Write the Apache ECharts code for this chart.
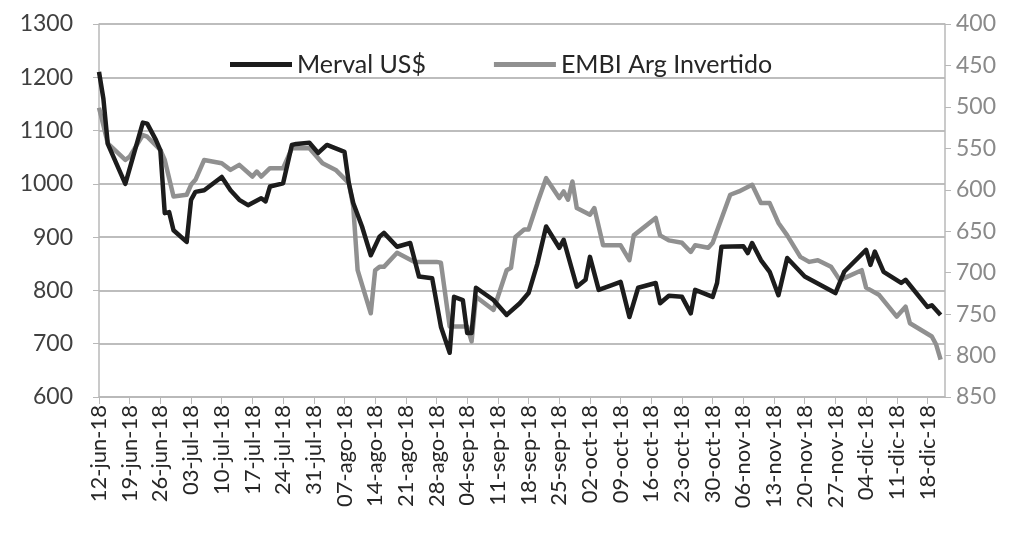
<!DOCTYPE html>
<html>
<head>
<meta charset="utf-8">
<script src="https://cdn.jsdelivr.net/npm/echarts@6/dist/echarts.min.js"></script>
<style>
    html, body { margin: 0; padding: 0; background: #fff; }
    #chartDiv { width: 1021px; height: 538px; }
</style>
</head>
<body>
<div id="chartDiv"></div>
<script>
// eje x: dias corridos desde 12-jun-18 (indice 0) hasta 22-dic-18
var startDate = new Date(2018, 5, 12);
var dayCount = 194;
var monthNames = ['ene', 'feb', 'mar', 'abr', 'may', 'jun', 'jul', 'ago', 'sep', 'oct', 'nov', 'dic'];

var seriesNames = ['Merval US$', 'EMBI Arg Invertido'];

// [dia, valor] - Merval en US$ (eje izquierdo)
var merval = [
    [0, 1210], [1, 1160], [2, 1075], [6, 1000], [10, 1115], [11, 1113], [13, 1082], [14, 1063],
    [15, 945], [16, 947], [17, 913], [20, 891], [21, 970], [22, 985], [24, 988], [28, 1013],
    [30, 988], [32, 970], [34, 960], [37, 973], [38, 967], [39, 995], [42, 1001], [44, 1073],
    [45, 1075], [48, 1077], [50, 1058], [52, 1073], [56, 1060], [57, 1001], [58, 964], [60, 920],
    [62, 866], [64, 901], [65, 908], [68, 882], [71, 889], [73, 826], [76, 823], [78, 732],
    [80, 683], [81, 788], [83, 782], [84, 720], [85, 720], [86, 805], [90, 782], [93, 754],
    [96, 776], [98, 795], [100, 850], [102, 920], [105, 880], [106, 895], [109, 807], [111, 820],
    [112, 863], [114, 801], [117, 810], [119, 816], [121, 750], [123, 805], [127, 814], [128, 776],
    [130, 790], [133, 788], [135, 757], [136, 801], [140, 788], [141, 814], [142, 882], [147, 883],
    [148, 870], [149, 889], [151, 857], [153, 835], [155, 791], [157, 861], [161, 826], [168, 795],
    [170, 835], [175, 876], [176, 848], [177, 873], [179, 835], [183, 814], [184, 820], [189, 769],
    [190, 772], [192, 754]
];

// [dia, valor] - EMBI Argentina (eje derecho, invertido)
var embi = [
    [0, 501], [1, 522], [2, 544], [6, 564], [7, 560], [10, 534], [11, 536], [14, 552],
    [15, 564], [17, 608], [20, 606], [21, 594], [22, 588], [24, 564], [28, 568], [30, 576],
    [32, 570], [35, 584], [36, 578], [37, 584], [39, 574], [42, 574], [44, 550], [48, 550],
    [51, 568], [54, 576], [57, 592], [58, 620], [59, 697], [62, 749], [63, 697], [64, 693],
    [65, 693], [68, 676], [72, 687], [77, 687], [78, 688], [80, 765], [84, 765], [85, 783],
    [86, 729], [90, 745], [93, 697], [94, 694], [95, 657], [97, 648], [98, 648], [100, 616],
    [102, 586], [105, 610], [106, 602], [107, 612], [108, 590], [109, 622], [112, 630], [113, 622],
    [115, 667], [119, 667], [121, 685], [122, 655], [127, 634], [128, 655], [130, 661], [133, 664],
    [135, 675], [136, 667], [139, 670], [140, 664], [144, 606], [146, 602], [149, 594], [151, 616],
    [153, 616], [155, 640], [157, 655], [160, 681], [162, 687], [164, 685], [167, 693], [169, 709],
    [174, 697], [175, 718], [178, 727], [182, 753], [184, 741], [185, 761], [190, 777], [191, 787],
    [192, 805]
];

function buildDays() {
    var days = [];
    for (var i = 0; i < dayCount; i++) {
        var d = new Date(startDate.getTime());
        d.setDate(d.getDate() + i);
        var dd = d.getDate() < 10 ? '0' + d.getDate() : '' + d.getDate();
        days.push(dd + '-' + monthNames[d.getMonth()] + '-' + String(d.getFullYear()).slice(2));
    }
    return days;
}

function plainNumber(v) {
    return String(v);
}

var fontName = 'Lato';
var myChart = echarts.init(document.getElementById('chartDiv'));
myChart.setOption({
    animation: false,
    textStyle: { fontFamily: fontName },
    legend: {
        top: 47,
        left: 225,
        icon: 'rect',
        itemWidth: 62,
        itemHeight: 5,
        itemGap: 68,
        textStyle: { fontSize: 25, color: '#262626', fontFamily: fontName },
        data: seriesNames
    },
    grid: {
        left: 99,
        right: 76,
        top: 24,
        bottom: 141,
        containLabel: false,
        outerBoundsMode: 'none'
    },
    xAxis: {
        type: 'category',
        boundaryGap: false,
        data: buildDays(),
        axisLine: { lineStyle: { color: '#b8b8b8', width: 1.5 } },
        axisTick: { interval: 6, length: 7, lineStyle: { color: '#b8b8b8' } },
        axisLabel: {
            interval: 6,
            rotate: 90,
            margin: 8,
            fontSize: 22,
            color: '#262626',
            fontFamily: fontName
        },
        splitLine: { show: false }
    },
    yAxis: [
        {
            type: 'value',
            min: 600,
            max: 1300,
            interval: 100,
            position: 'left',
            axisLine: { show: true, lineStyle: { color: '#b8b8b8', width: 1.5 } },
            axisTick: { show: true, length: 6, lineStyle: { color: '#b8b8b8' } },
            axisLabel: { margin: 26, fontSize: 23, color: '#404040', fontFamily: fontName, formatter: plainNumber },
            splitLine: { lineStyle: { color: '#bdbdbd', width: 2 } }
        },
        {
            type: 'value',
            min: 400,
            max: 850,
            interval: 50,
            inverse: true,
            position: 'right',
            axisLine: { show: true, lineStyle: { color: '#b8b8b8', width: 1.5 } },
            axisTick: { show: true, length: 6, lineStyle: { color: '#b8b8b8' } },
            axisLabel: { margin: 11, fontSize: 23, color: '#8a8a8a', fontFamily: fontName, formatter: plainNumber },
            splitLine: { show: false }
        }
    ],
    series: [
        {
            name: seriesNames[0],
            type: 'line',
            yAxisIndex: 0,
            symbol: 'none',
            color: '#1c1c1c',
            lineStyle: { width: 4.5, color: '#1c1c1c', join: 'round' },
            data: merval,
            z: 3
        },
        {
            name: seriesNames[1],
            type: 'line',
            yAxisIndex: 1,
            symbol: 'none',
            color: '#909090',
            lineStyle: { width: 4.5, color: '#909090', join: 'round' },
            data: embi,
            z: 2
        }
    ]
});
</script>
</body>
</html>
